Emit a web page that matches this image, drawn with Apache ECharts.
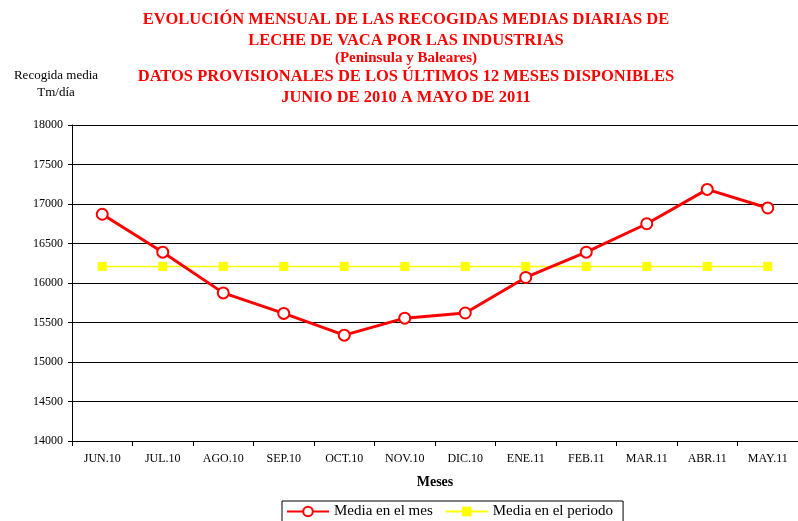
<!DOCTYPE html>
<html>
<head>
<meta charset="utf-8">
<script src="https://cdn.jsdelivr.net/npm/echarts@6/dist/echarts.min.js"></script>
<style>
  html, body { margin: 0; padding: 0; background: #fff; }
  #chart { width: 798px; height: 521px; }
</style>
</head>
<body>
<div id="chart"></div>
<script>
// Monthly categories (June 2010 – May 2011)
const months = ['JUN.10', 'JUL.10', 'AGO.10', 'SEP.10', 'OCT.10', 'NOV.10', 'DIC.10', 'ENE.11', 'FEB.11', 'MAR.11', 'ABR.11', 'MAY.11'];
// Average daily collection per month (Tm/día)
const mediaMes = [16870, 16390, 15875, 15615, 15340, 15555, 15620, 16070, 16390, 16750, 17185, 16950];
// Average over the whole period
const mediaPeriodo = [16210, 16210, 16210, 16210, 16210, 16210, 16210, 16210, 16210, 16210, 16210, 16210];

const serif = '"Liberation Serif", "DejaVu Serif", serif';

const chart = echarts.init(document.getElementById('chart'), null, { renderer: 'canvas' });
chart.setOption({
  animation: false,
  backgroundColor: '#fff',
  title: [
    {
      text: 'EVOLUCIÓN MENSUAL DE LAS RECOGIDAS MEDIAS DIARIAS DE\nLECHE DE VACA POR LAS INDUSTRIAS',
      left: 406, top: 9, textAlign: 'center', padding: 0,
      textStyle: { color: '#ff0000', fontFamily: serif, fontWeight: 'bold', fontSize: 16.5, lineHeight: 21 }
    },
    {
      text: '(Peninsula y Baleares)',
      left: 406, top: 51, textAlign: 'center', padding: 0,
      textStyle: { color: '#ff0000', fontFamily: serif, fontWeight: 'bold', fontSize: 15, lineHeight: 15 }
    },
    {
      text: 'DATOS PROVISIONALES DE LOS ÚLTIMOS 12 MESES DISPONIBLES\nJUNIO DE 2010 A MAYO DE 2011',
      left: 406, top: 66, textAlign: 'center', padding: 0,
      textStyle: { color: '#ff0000', fontFamily: serif, fontWeight: 'bold', fontSize: 16.5, lineHeight: 21 }
    },
    {
      text: 'Recogida media\nTm/día',
      left: 56, top: 67, textAlign: 'center', padding: 0,
      textStyle: { color: '#000', fontFamily: serif, fontWeight: 'normal', fontSize: 13, lineHeight: 17 }
    }
  ],
  grid: { left: 72, right: -4, top: 125, bottom: 80 },
  legend: {
    left: 282, top: 501,
    itemWidth: 42, itemHeight: 12, itemGap: 12,
    padding: [3, 10, 3, 4],
    borderColor: '#000', borderWidth: 1,
    backgroundColor: '#fff',
    textStyle: { fontFamily: serif, fontSize: 15, color: '#000' },
    data: ['Media en el mes', 'Media en el periodo']
  },
  xAxis: {
    type: 'category',
    data: months,
    boundaryGap: true,
    name: 'Meses',
    nameLocation: 'middle',
    nameGap: 34,
    nameTextStyle: { fontFamily: serif, fontWeight: 'bold', fontSize: 14, color: '#000' },
    axisLine: { lineStyle: { color: '#000', width: 1 } },
    axisTick: { show: true, alignWithLabel: false, length: 5, lineStyle: { color: '#000' } },
    axisLabel: { fontFamily: serif, fontSize: 12, color: '#000', margin: 12, interval: 0 },
    splitLine: { show: false }
  },
  yAxis: {
    type: 'value',
    min: 14000, max: 18000, interval: 500,
    axisLine: { show: true, lineStyle: { color: '#000', width: 1 } },
    axisTick: { show: true, length: 4, lineStyle: { color: '#000' } },
    axisLabel: { fontFamily: serif, fontSize: 12, color: '#000', margin: 9, formatter: v => String(v) },
    splitLine: { show: true, lineStyle: { color: '#000', width: 1 } }
  },
  series: [
    {
      name: 'Media en el mes',
      type: 'line',
      data: mediaMes,
      symbol: 'circle',
      symbolSize: 11,
      showAllSymbol: true,
      lineStyle: { color: '#ff0000', width: 3 },
      itemStyle: { color: '#fff', borderColor: '#ff0000', borderWidth: 2 },
      z: 3
    },
    {
      name: 'Media en el periodo',
      type: 'line',
      data: mediaPeriodo,
      symbol: 'rect',
      symbolSize: 9,
      showAllSymbol: true,
      lineStyle: { color: '#ffff00', width: 1.5 },
      itemStyle: { color: '#ffff00' },
      z: 2
    }
  ]
});
</script>
</body>
</html>
